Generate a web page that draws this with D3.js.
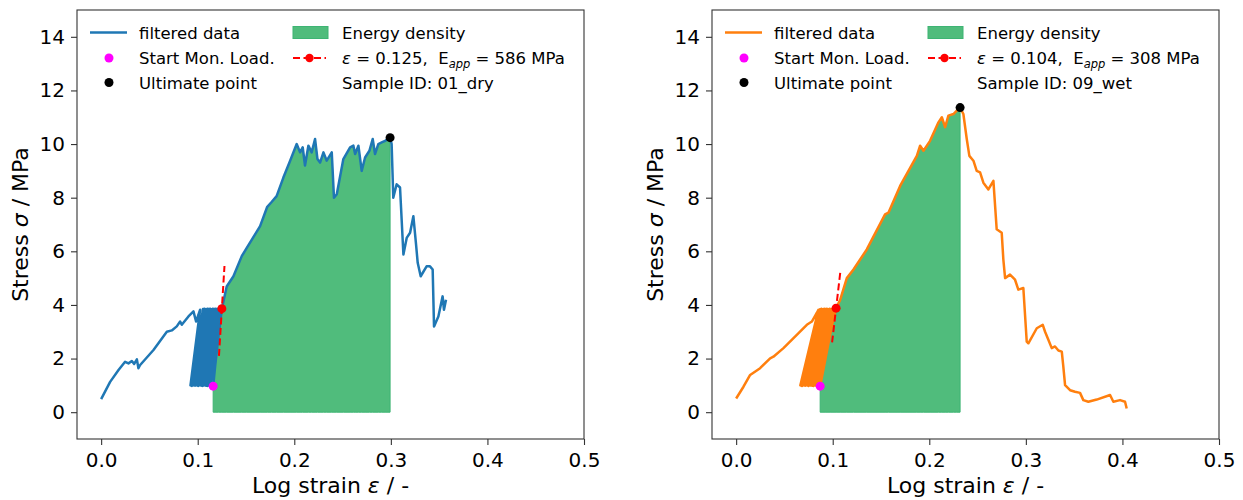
<!DOCTYPE html>
<html>
<head>
<meta charset="utf-8">
<script src="https://cdn.jsdelivr.net/npm/d3@7"></script>
<style>
  body { margin: 0; background: #fff; }
  svg text { font-family: "DejaVu Sans", sans-serif; fill: #000; }
</style>
</head>
<body>
<svg id="chart" width="1243" height="500"></svg>
<script>
"use strict";

const strainTicks = [0, 0.1, 0.2, 0.3, 0.4, 0.5];
const stressTicks = [0, 2, 4, 6, 8, 10, 12, 14];

// sample 01_dry, [log strain, stress]
const dryLoading = [
  [0, 0.49], [0.0093, 1.13], [0.018, 1.57], [0.0248, 1.88], [0.0283, 1.82], [0.0318, 1.91],
  [0.0342, 1.8], [0.037, 1.97], [0.0386, 1.64], [0.0404, 1.76], [0.0542, 2.32], [0.068, 3.0],
  [0.0732, 3.05], [0.0783, 3.2], [0.0818, 3.38], [0.0835, 3.26], [0.0904, 3.57], [0.0956, 3.76],
  [0.0983, 3.38], [0.1025, 3.82]
];
const dryCycles = [
  [0.0925, 1.0], [0.1055, 3.85], [0.094, 0.98], [0.107, 3.86], [0.0957, 1.0], [0.1085, 3.84],
  [0.0973, 0.99], [0.11, 3.86], [0.099, 1.0], [0.1114, 3.85], [0.1005, 0.98], [0.1128, 3.86],
  [0.1021, 1.0], [0.1142, 3.84], [0.1037, 0.99], [0.1156, 3.86], [0.1053, 0.98], [0.117, 3.85],
  [0.1069, 1.0], [0.1184, 3.86], [0.1085, 0.99], [0.1198, 3.85], [0.11, 0.98], [0.1212, 3.86],
  [0.1116, 0.99], [0.1226, 3.85], [0.1132, 0.98], [0.1232, 3.84]
];
const dryMonotonic = [
  [0.116, 0.97], [0.118, 1.7], [0.1215, 2.82], [0.125, 3.86], [0.13, 4.69], [0.137, 5.07],
  [0.1456, 5.82], [0.1508, 6.13], [0.1646, 6.94], [0.172, 7.66], [0.1765, 7.84], [0.1817, 8.06],
  [0.1887, 8.75], [0.1956, 9.37], [0.2025, 10.0], [0.206, 9.69], [0.2087, 9.88], [0.2111, 9.2],
  [0.2146, 9.94], [0.218, 9.69], [0.2215, 10.19], [0.224, 9.44], [0.2267, 9.31], [0.2302, 9.69],
  [0.2336, 9.38], [0.2388, 9.69], [0.2411, 8.0], [0.244, 8.13], [0.2508, 9.44], [0.2578, 9.88],
  [0.2612, 9.94], [0.263, 9.63], [0.2664, 9.94], [0.2698, 9.0], [0.2733, 9.5], [0.2778, 9.75],
  [0.2812, 10.19], [0.2836, 9.63], [0.287, 10.0], [0.2905, 10.06], [0.294, 10.12], [0.2992, 10.24]
];
const dryPost = [
  [0.3008, 10.0], [0.3025, 8.0], [0.306, 8.5], [0.3095, 8.38], [0.313, 5.88], [0.3164, 6.5],
  [0.3199, 6.69], [0.3233, 7.31], [0.3261, 6.25], [0.3278, 5.57], [0.3309, 5.07], [0.337, 5.44],
  [0.3405, 5.44], [0.3433, 5.32], [0.3447, 3.2], [0.3492, 3.57], [0.3536, 4.32], [0.355, 3.82],
  [0.3571, 4.19]
];
const dryModulus = [0.125, 3.86, 586];
const dryModulusStress = [2.1, 5.45];

// sample 09_wet
const wetLoading = [
  [0, 0.51], [0.0076, 0.95], [0.0145, 1.39], [0.0248, 1.64], [0.0352, 2.01], [0.0386, 2.07],
  [0.049, 2.39], [0.0628, 2.88], [0.0732, 3.26], [0.0784, 3.38], [0.0835, 3.7], [0.0852, 3.82]
];
const wetCycles = [
  [0.0665, 1.0], [0.0868, 3.84], [0.0682, 0.98], [0.0883, 3.86], [0.0699, 1.0], [0.0898, 3.84],
  [0.0716, 0.99], [0.0912, 3.86], [0.0733, 1.0], [0.0926, 3.85], [0.075, 0.98], [0.094, 3.86],
  [0.0767, 1.0], [0.0954, 3.84], [0.0784, 0.99], [0.0968, 3.86], [0.0801, 0.98], [0.0982, 3.85],
  [0.0818, 1.0], [0.0996, 3.86], [0.0835, 0.99], [0.101, 3.85], [0.0852, 0.98], [0.1025, 3.86]
];
const wetMonotonic = [
  [0.087, 0.97], [0.0921, 2.07], [0.0973, 2.95], [0.1035, 3.88], [0.1077, 4.19], [0.1146, 5.0],
  [0.1215, 5.32], [0.1353, 6.07], [0.1542, 7.38], [0.1577, 7.44], [0.1698, 8.44], [0.1871, 9.56],
  [0.1905, 9.94], [0.194, 9.75], [0.2008, 10.12], [0.2095, 10.81], [0.213, 11.0], [0.2164, 10.63],
  [0.2198, 11.06], [0.225, 11.12], [0.2285, 11.25], [0.2319, 11.36]
];
const wetPost = [
  [0.2353, 11.12], [0.2388, 10.19], [0.2415, 9.56], [0.2457, 9.38], [0.2491, 9.0], [0.2526, 8.94],
  [0.256, 8.56], [0.2612, 8.31], [0.2664, 8.63], [0.2698, 6.82], [0.275, 6.69], [0.2767, 5.69],
  [0.2785, 5.0], [0.2836, 5.13], [0.2888, 4.94], [0.2922, 4.57], [0.2974, 4.63], [0.3009, 2.63],
  [0.3026, 2.57], [0.3113, 3.13], [0.3175, 3.26], [0.3199, 3.0], [0.3233, 2.7], [0.3268, 2.39],
  [0.3302, 2.45], [0.3337, 2.3], [0.3372, 2.26], [0.3388, 1.7], [0.3406, 1.01], [0.3458, 0.82],
  [0.3509, 0.76], [0.3561, 0.72], [0.3595, 0.45], [0.3647, 0.39], [0.3734, 0.47], [0.3872, 0.64],
  [0.3906, 0.39], [0.3975, 0.45], [0.4027, 0.39], [0.4044, 0.14]
];
const wetModulus = [0.1035, 3.88, 308];
const wetModulusStress = [2.6, 5.2];

const panels = [
  {left: 77, color: "#1f77b4", id: "01_dry", eps: "0.125", E: "586",
    loading: dryLoading, cycles: dryCycles, mono: dryMonotonic, post: dryPost,
    modulus: dryModulus, modStress: dryModulusStress},
  {left: 712, color: "#ff7f0e", id: "09_wet", eps: "0.104", E: "308",
    loading: wetLoading, cycles: wetCycles, mono: wetMonotonic, post: wetPost,
    modulus: wetModulus, modStress: wetModulusStress}
];

let svg = d3.select("#chart"),
  plotTop = 10,
  plotBottom = 439,
  plotWidth = 507,
  fillColor = "#50bc7c",
  axisColor = "#333"
;

svg.append("rect").attr("width", 1243).attr("height", 500).attr("fill", "#fff");

panels.forEach(function(p) {
  let g = svg.append("g"),
    x = d3.scaleLinear().domain([-0.025, 0.5]).range([p.left, p.left + plotWidth]),
    y = d3.scaleLinear().domain([-1, 15]).range([plotBottom, plotTop]);

  g.append("path")
    .datum(p.mono)
    .attr("fill", fillColor)
    .attr("stroke", "#3db473")
    .attr("stroke-width", 1)
    .attr("d", d3.area().x(d => x(d[0])).y0(y(0)).y1(d => y(d[1])));

  g.append("path")
    .datum(p.loading.concat(p.cycles, p.mono, p.post))
    .attr("fill", "none")
    .attr("stroke", p.color)
    .attr("stroke-width", 2.5)
    .attr("stroke-linejoin", "round")
    .attr("d", d3.line().x(d => x(d[0])).y(d => y(d[1])));

  let m = p.modulus,
    modLine = p.modStress.map(s => [m[0] + (s - m[1]) / m[2], s]);

  g.append("path")
    .datum(modLine)
    .attr("fill", "none")
    .attr("stroke", "#ff0000")
    .attr("stroke-width", 2)
    .attr("stroke-dasharray", "7,3.5")
    .attr("d", d3.line().x(d => x(d[0])).y(d => y(d[1])));

  let start = p.mono[0],
    ultimate = p.mono[p.mono.length - 1];

  g.append("circle").attr("cx", x(start[0])).attr("cy", y(start[1])).attr("r", 4.5).attr("fill", "#ff00ff");
  g.append("circle").attr("cx", x(m[0])).attr("cy", y(m[1])).attr("r", 4.5).attr("fill", "#ff0000");
  g.append("circle").attr("cx", x(ultimate[0])).attr("cy", y(ultimate[1])).attr("r", 4.5).attr("fill", "#000");

  let xAxis = g.append("g")
    .attr("transform", "translate(0," + plotBottom + ")")
    .call(d3.axisBottom(x).tickValues(strainTicks).tickFormat(d3.format(".1f")).tickSize(6).tickPadding(8));
  let yAxis = g.append("g")
    .attr("transform", "translate(" + p.left + ",0)")
    .call(d3.axisLeft(y).tickValues(stressTicks).tickSize(6).tickPadding(6));

  [xAxis, yAxis].forEach(function(a) {
    a.select(".domain").remove();
    a.attr("color", axisColor).attr("font-size", 20).attr("font-family", "DejaVu Sans");
    a.selectAll("line").attr("stroke-width", 1.1);
    a.selectAll("text").attr("fill", "#000");
  });

  g.append("rect")
    .attr("x", p.left).attr("y", plotTop)
    .attr("width", plotWidth).attr("height", plotBottom - plotTop)
    .attr("fill", "none").attr("stroke", axisColor).attr("stroke-width", 1.1);

  let xl = g.append("text")
    .attr("x", p.left + plotWidth / 2).attr("y", 492.5)
    .attr("text-anchor", "middle").attr("font-size", 22);
  xl.append("tspan").text("Log strain ");
  xl.append("tspan").attr("font-style", "italic").text("ε");
  xl.append("tspan").text(" / -");

  let yl = g.append("text")
    .attr("transform", "translate(" + (p.left - 49) + "," + ((plotTop + plotBottom) / 2) + ") rotate(-90)")
    .attr("text-anchor", "middle").attr("font-size", 22);
  yl.append("tspan").text("Stress ");
  yl.append("tspan").attr("font-style", "italic").text("σ");
  yl.append("tspan").text(" / MPa");

  // legend
  let lg = g.append("g").attr("transform", "translate(" + p.left + ",0)").attr("font-size", 16.5),
    rows = [32.5, 58, 82.5];

  lg.append("line").attr("x1", 13).attr("x2", 50).attr("y1", rows[0]).attr("y2", rows[0])
    .attr("stroke", p.color).attr("stroke-width", 2.4);
  lg.append("circle").attr("cx", 32).attr("cy", rows[1]).attr("r", 4.5).attr("fill", "#ff00ff");
  lg.append("circle").attr("cx", 32).attr("cy", rows[2]).attr("r", 4.5).attr("fill", "#000");
  ["filtered data", "Start Mon. Load.", "Ultimate point"].forEach(function(t, i) {
    lg.append("text").attr("x", 62).attr("y", rows[i] + 6).text(t);
  });

  lg.append("rect").attr("x", 216).attr("y", rows[0] - 6).attr("width", 35).attr("height", 12)
    .attr("fill", fillColor).attr("stroke", "#3db473");
  lg.append("line").attr("x1", 216).attr("x2", 249).attr("y1", rows[1]).attr("y2", rows[1])
    .attr("stroke", "#ff0000").attr("stroke-width", 2).attr("stroke-dasharray", "7,3.5");
  lg.append("circle").attr("cx", 232.5).attr("cy", rows[1]).attr("r", 4.2).attr("fill", "#ff0000");

  lg.append("text").attr("x", 265).attr("y", rows[0] + 6).text("Energy density");
  let et = lg.append("text").attr("x", 265).attr("y", rows[1] + 6);
  et.append("tspan").attr("font-style", "italic").text("ε");
  et.append("tspan").text(" = " + p.eps + ",\u00a0\u00a0E");
  et.append("tspan").attr("font-style", "italic").attr("font-size", 11.5).attr("dy", 3.5).text("app");
  et.append("tspan").attr("dy", -3.5).text(" = " + p.E + " MPa");
  lg.append("text").attr("x", 265).attr("y", rows[2] + 6).text("Sample ID: " + p.id);
});
</script>
</body>
</html>
